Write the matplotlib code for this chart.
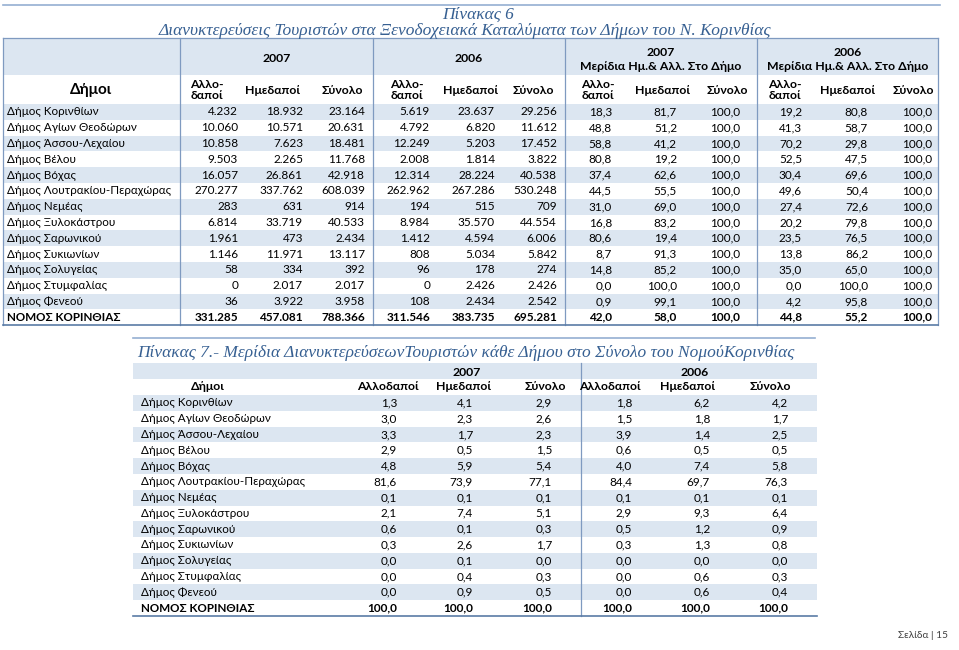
import matplotlib
matplotlib.use("Agg")
import matplotlib.pyplot as plt
from matplotlib.patches import Rectangle
from matplotlib import font_manager
from matplotlib.ft2font import FT2Font

# ---- data -------------------------------------------------------------
municipalities = ["Δήμος Κορινθίων", "Δήμος Αγίων Θεοδώρων", "Δήμος Άσσου-Λεχαίου",
                  "Δήμος Βέλου", "Δήμος Βόχας", "Δήμος Λουτρακίου-Περαχώρας",
                  "Δήμος Νεμέας", "Δήμος Ξυλοκάστρου", "Δήμος Σαρωνικού",
                  "Δήμος Συκιωνίων", "Δήμος Σολυγείας", "Δήμος Στυμφαλίας",
                  "Δήμος Φενεού", "ΝΟΜΟΣ ΚΟΡΙΝΘΙΑΣ"]

# Πίνακας 6 - overnight stays
foreign_2007 = [4232, 10060, 10858, 9503, 16057, 270277, 283, 6814, 1961, 1146, 58, 0, 36, 331285]
domestic_2007 = [18932, 10571, 7623, 2265, 26861, 337762, 631, 33719, 473, 11971, 334, 2017, 3922, 457081]
total_2007 = [23164, 20631, 18481, 11768, 42918, 608039, 914, 40533, 2434, 13117, 392, 2017, 3958, 788366]
foreign_2006 = [5619, 4792, 12249, 2008, 12314, 262962, 194, 8984, 1412, 808, 96, 0, 108, 311546]
domestic_2006 = [23637, 6820, 5203, 1814, 28224, 267286, 515, 35570, 4594, 5034, 178, 2426, 2434, 383735]
total_2006 = [29256, 11612, 17452, 3822, 40538, 530248, 709, 44554, 6006, 5842, 274, 2426, 2542, 695281]

# shares of foreign / domestic within each municipality (%)
share_f_2007 = [18.3, 48.8, 58.8, 80.8, 37.4, 44.5, 31.0, 16.8, 80.6, 8.7, 14.8, 0.0, 0.9, 42.0]
share_d_2007 = [81.7, 51.2, 41.2, 19.2, 62.6, 55.5, 69.0, 83.2, 19.4, 91.3, 85.2, 100.0, 99.1, 58.0]
share_t_2007 = [100.0] * 14
share_f_2006 = [19.2, 41.3, 70.2, 52.5, 30.4, 49.6, 27.4, 20.2, 23.5, 13.8, 35.0, 0.0, 4.2, 44.8]
share_d_2006 = [80.8, 58.7, 29.8, 47.5, 69.6, 50.4, 72.6, 79.8, 76.5, 86.2, 65.0, 100.0, 95.8, 55.2]
share_t_2006 = [100.0] * 14

# Πίνακας 7 - share of each municipality in the prefecture total (%)
pref_f_2007 = [1.3, 3.0, 3.3, 2.9, 4.8, 81.6, 0.1, 2.1, 0.6, 0.3, 0.0, 0.0, 0.0, 100.0]
pref_d_2007 = [4.1, 2.3, 1.7, 0.5, 5.9, 73.9, 0.1, 7.4, 0.1, 2.6, 0.1, 0.4, 0.9, 100.0]
pref_t_2007 = [2.9, 2.6, 2.3, 1.5, 5.4, 77.1, 0.1, 5.1, 0.3, 1.7, 0.0, 0.3, 0.5, 100.0]
pref_f_2006 = [1.8, 1.5, 3.9, 0.6, 4.0, 84.4, 0.1, 2.9, 0.5, 0.3, 0.0, 0.0, 0.0, 100.0]
pref_d_2006 = [6.2, 1.8, 1.4, 0.5, 7.4, 69.7, 0.1, 9.3, 1.2, 1.3, 0.0, 0.6, 0.6, 100.0]
pref_t_2006 = [4.2, 1.7, 2.5, 0.5, 5.8, 76.3, 0.1, 6.4, 0.9, 0.8, 0.0, 0.3, 0.4, 100.0]


def has_greek(name):
    try:
        path = font_manager.findfont(name, fallback_to_default=False)
    except Exception:
        return False
    return ord("Δ") in FT2Font(path).get_charmap()


SANS = "Lato" if has_greek("Lato") else "Open Sans"
SERIF = "Liberation Serif"
BAND = "#DCE6F1"
TITLE_C = "#376092"
LINE_C = "#7F9AC0"
FS_NAME = 8.4   # row labels
FS_NUM = 8.5    # numbers
FS_HDR = 8.8    # column headers


def fmt_int(v):
    return f"{v:,}".replace(",", ".")


def fmt_dec(v):
    return f"{v:.1f}".replace(".", ",")


fig = plt.figure(figsize=(9.59, 6.5), dpi=100)
ax = fig.add_axes([0, 0, 1, 1])
ax.set_xlim(0, 959)
ax.set_ylim(650, 0)
ax.axis("off")


def txt(x, y, s, ha="left", bold=False, size=FS_NUM, **kw):
    ax.text(x, y, s, ha=ha, va="center", fontsize=size, family=SANS,
            fontweight="bold" if bold else "normal", **kw)


def title(x, y, s, ha="center"):
    ax.text(x, y, s, ha=ha, va="center", family=SERIF, style="italic",
            fontsize=12.5, color=TITLE_C)


n = len(municipalities)

# ---- Πίνακας 6 --------------------------------------------------------
ax.plot([3, 940], [5, 5], color="#95AFD2", lw=1.2)
title(478, 15, "Πίνακας 6")
title(465, 31, "Διανυκτερεύσεις Τουριστών στα Ξενοδοχειακά Καταλύματα των Δήμων του Ν. Κορινθίας")

x0, x1 = 3, 938
top, h1, h2, rh = 38, 75, 104, 15.8
ax.add_patch(Rectangle((x0, top), x1 - x0, h1 - top, color=BAND, lw=0))
for i in range(n):
    if i % 2 == 0:
        ax.add_patch(Rectangle((x0, h2 + i * rh), x1 - x0, rh, color=BAND, lw=0))
bottom = h2 + n * rh

group_edges = [3, 180, 373, 565, 757, 938]
for gx in group_edges:
    ax.plot([gx, gx], [top, bottom], color=LINE_C, lw=0.9)
ax.plot([x0, x1], [top, top], color=LINE_C, lw=0.9)
ax.plot([x0, x1], [bottom, bottom], color="#5A7BA6", lw=1.2)

txt(91, 90, "Δήμοι", ha="center", bold=True, size=11)
centers = [(group_edges[k] + group_edges[k + 1]) / 2 for k in range(1, 5)]
txt(centers[0], 58, "2007", ha="center", bold=True, size=FS_HDR)
txt(centers[1], 58, "2006", ha="center", bold=True, size=FS_HDR)
for cx, yr in zip(centers[2:], ["2007", "2006"]):
    txt(cx, 52, yr, ha="center", bold=True, size=FS_HDR)
    txt(cx, 67, "Μερίδια Ημ.& Αλλ. Στο Δήμο", ha="center", bold=True, size=FS_HDR)

sub_centers = [207, 272, 342, 407, 470, 533, 598, 662, 727, 785, 847, 913]
sub_labels = ["Αλλο-\nδαποί", "Ημεδαποί", "Σύνολο"] * 4
for cx, lab in zip(sub_centers, sub_labels):
    txt(cx, 90, lab, ha="center", bold=True, size=FS_HDR,
        multialignment="left", linespacing=1.0)

cols6 = [foreign_2007, domestic_2007, total_2007, foreign_2006, domestic_2006, total_2006,
         share_f_2007, share_d_2007, share_t_2007, share_f_2006, share_d_2006, share_t_2006]
right6 = [238, 303, 365, 430, 495, 557, 612, 677, 740, 802, 868, 932]
for i, name in enumerate(municipalities):
    y = h2 + (i + 0.5) * rh
    last = i == n - 1
    txt(7, y, name, bold=last, size=FS_NAME)
    for k, (col, rx) in enumerate(zip(cols6, right6)):
        s = fmt_int(col[i]) if k < 6 else fmt_dec(col[i])
        txt(rx, y, s, ha="right", bold=last)

# ---- Πίνακας 7 --------------------------------------------------------
ax.plot([133, 815], [338, 338], color="#95AFD2", lw=1.2)
title(137, 353, "Πίνακας 7.- Μερίδια ΔιανυκτερεύσεωνΤουριστών κάθε Δήμου στο Σύνολο του ΝομούΚορινθίας",
      ha="left")

x0, x1, sep = 133, 817, 581
top, h1, h2 = 363, 379, 395
rh = (616 - h2) / n
ax.add_patch(Rectangle((x0, top), x1 - x0, h1 - top, color=BAND, lw=0))
for i in range(n):
    if i % 2 == 0:
        ax.add_patch(Rectangle((x0, h2 + i * rh), x1 - x0, rh, color=BAND, lw=0))
bottom = h2 + n * rh
ax.plot([sep, sep], [top, bottom], color=LINE_C, lw=0.9)
ax.plot([x0, x1], [bottom, bottom], color="#5A7BA6", lw=1.2)

txt(467, 372, "2007", ha="center", bold=True, size=FS_HDR)
txt(695, 372, "2006", ha="center", bold=True, size=FS_HDR)
hdr7 = ["Δήμοι", "Αλλοδαποί", "Ημεδαποί", "Σύνολο", "Αλλοδαποί", "Ημεδαποί", "Σύνολο"]
hdr7_x = [208, 388, 463, 545, 610, 687, 770]
for cx, lab in zip(hdr7_x, hdr7):
    txt(cx, 387, lab, ha="center", bold=True, size=FS_HDR)

cols7 = [pref_f_2007, pref_d_2007, pref_t_2007, pref_f_2006, pref_d_2006, pref_t_2006]
right7 = [397, 473, 552, 632, 710, 788]
for i, name in enumerate(municipalities):
    y = h2 + (i + 0.5) * rh
    last = i == n - 1
    txt(141, y, name, bold=last, size=FS_NAME)
    for col, rx in zip(cols7, right7):
        txt(rx, y, fmt_dec(col[i]), ha="right", bold=last)

# footer
txt(948, 636, "Σελίδα | 15", ha="right", size=7.3, color="#404040")

fig.savefig("out.png", dpi=100)
